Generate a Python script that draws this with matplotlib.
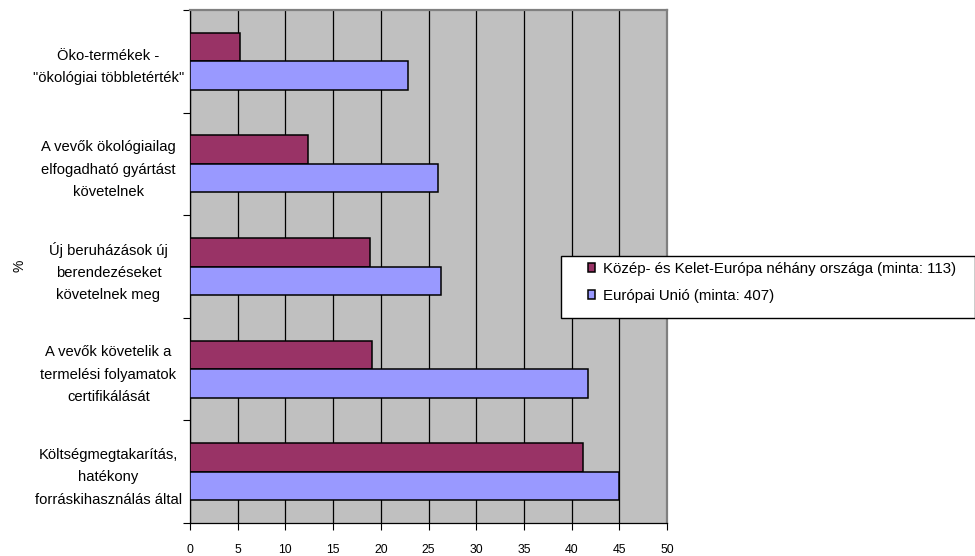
import numpy as np
import matplotlib
matplotlib.use("Agg")
import matplotlib.pyplot as plt
from matplotlib.patches import Rectangle

plt.rcParams["font.family"] = ["Liberation Sans", "DejaVu Sans"]

# Categories listed from top to bottom
categories = [
    'Öko-termékek -\n"ökológiai többletérték"',
    "A vevők ökológiailag\nelfogadható gyártást\nkövetelnek",
    "Új beruházások új\nberendezéseket\nkövetelnek meg",
    "A vevők követelik a\ntermelési folyamatok\ncertifikálását",
    "Költségmegtakarítás,\nhatékony\nforráskihasználás által",
]
cee_values = [5.2, 12.4, 18.9, 19.1, 41.2]
eu_values = [22.9, 26.0, 26.3, 41.7, 45.0]
series_labels = [
    "Közép- és Kelet-Európa néhány országa (minta: 113)",
    "Európai Unió (minta: 407)",
]
x_ticks = list(range(0, 55, 5))

W, H = 975, 556
fig = plt.figure(figsize=(W / 100, H / 100), dpi=100)
ax = fig.add_axes([190 / W, (H - 523) / H, 477 / W, 513 / H])
ax.set_facecolor("#C0C0C0")

y = np.arange(len(categories))
bar_h = 0.277
b1 = ax.barh(y - bar_h / 2, cee_values, height=bar_h, color="#993366",
             edgecolor="black", linewidth=1.1, zorder=3, label=series_labels[0])
b2 = ax.barh(y + bar_h / 2, eu_values, height=bar_h, color="#9999FF",
             edgecolor="black", linewidth=1.1, zorder=3, label=series_labels[1])

ax.set_xlim(0, 50)
ax.set_ylim(len(categories) - 0.5, -0.5)

ax.set_xticks(x_ticks)
ax.set_xticklabels([str(v) for v in x_ticks], fontsize=8.8)
ax.xaxis.grid(True, color="black", linewidth=0.9, zorder=1)
ax.set_axisbelow(True)
ax.tick_params(axis="x", direction="out", length=5, width=0.8, pad=10, colors="black")

ax.set_yticks(y)
ax.set_yticklabels(categories, fontsize=10.6, ha="center", multialignment="center",
                   linespacing=1.75)
ax.tick_params(axis="y", which="major", length=0, pad=58.7)
ax.set_yticks(np.arange(-0.5, len(categories), 1.0), minor=True)
ax.tick_params(axis="y", which="minor", direction="out", length=5, width=0.8)

for side in ("left", "bottom"):
    ax.spines[side].set_color("black")
    ax.spines[side].set_linewidth(0.9)
for side in ("top", "right"):
    ax.spines[side].set_color("#808080")
    ax.spines[side].set_linewidth(1.6)

fig.text(19 / W, 1 - 266 / H, "%", rotation=90, ha="center", va="center", fontsize=10)

# Legend box
fig.patches.append(Rectangle((560.5 / W, 1 - 318 / H), 414 / W, 62 / H,
                             transform=fig.transFigure, facecolor="white",
                             edgecolor="black", linewidth=1.0, zorder=5))
fig.legend(handles=[b1, b2], labels=series_labels, loc="upper left",
           bbox_to_anchor=(587.5 / W, 1 - 262 / H), frameon=False,
           borderpad=0, borderaxespad=0, fontsize=10.8, handlelength=0.5,
           handleheight=0.5, handletextpad=0.55, labelspacing=0.85).set_zorder(6)

fig.savefig("out.png", dpi=100)
